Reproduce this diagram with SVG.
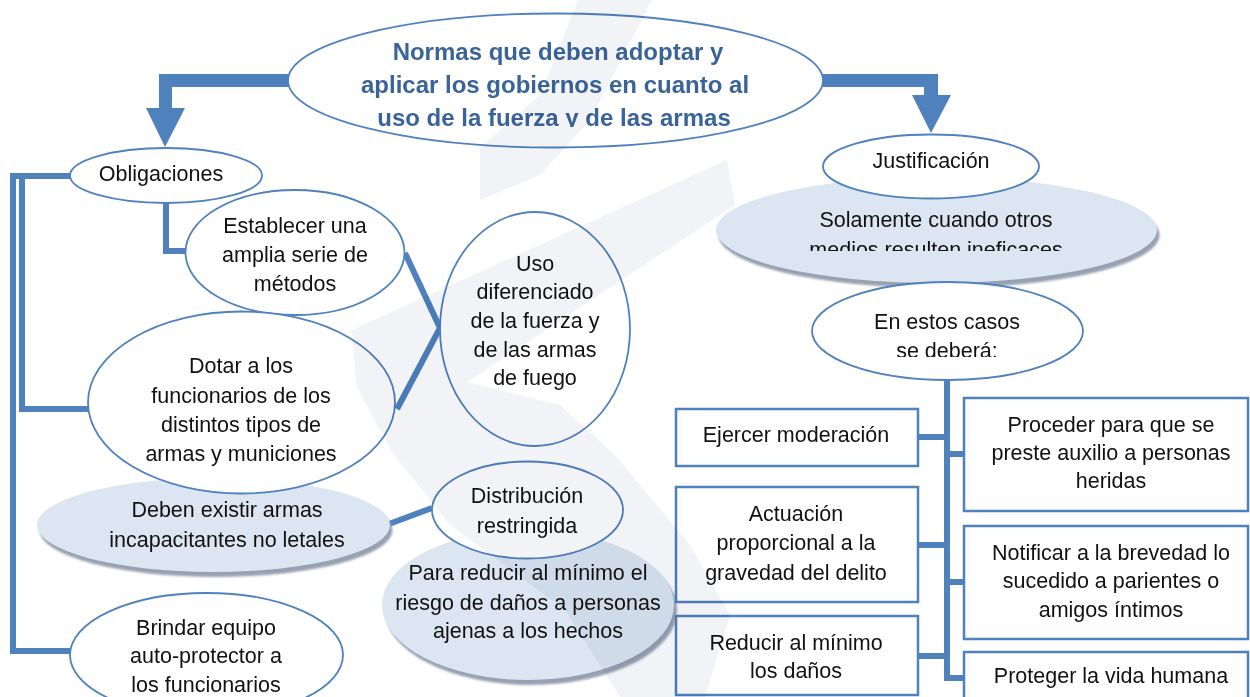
<svg xmlns="http://www.w3.org/2000/svg" width="1250" height="697" viewBox="0 0 1250 697">
<style>
.n{fill:#fff;stroke:#4f81bd;stroke-width:1.8}
.b{fill:#fff;stroke:#4f81bd;stroke-width:2.5}
.s{fill:#dce6f2}
.sh{fill:#97a1b1;filter:url(#blur)}
.t{font-family:"Liberation Sans",Arial,sans-serif;font-size:21.5px;fill:#111;text-anchor:middle}
.tt{font-family:"Liberation Sans",Arial,sans-serif;font-size:24px;font-weight:bold;fill:#3a6499;text-anchor:middle}
.c{fill:none;stroke:#4f81bd;stroke-width:6}
.a{fill:#4f81bd}
.wm{fill:#f1f3f6;mix-blend-mode:multiply}
</style>
<defs>
<filter id="blur" x="-10%" y="-10%" width="120%" height="130%"><feGaussianBlur stdDeviation="1.2"/></filter>
<clipPath id="clipTitle"><rect x="280" y="0" width="560" height="127"/></clipPath>
<clipPath id="clipSol"><rect x="700" y="150" width="470" height="101"/></clipPath>
<clipPath id="clipEn"><rect x="800" y="280" width="300" height="77"/></clipPath>
</defs>
<rect width="1250" height="697" fill="#fff"/>

<g id="connectors">
<polygon class="a" points="288,74 159,74 159,108 146,108 165,147 185,108 172,108 172,87 288,87"/>
<polygon class="a" points="823,74 938,74 938,95 951,95 931,133 912,95 924,95 924,87 823,87"/>
<path class="c" d="M70,176 H13 V651 H70"/>
<path class="c" d="M22,179 V409 H88"/>
<path class="c" d="M166,203 V251 H187"/>
<path class="c" d="M405,253 L440,328 L397,409" stroke-width="5.5"/>
<path class="c" d="M389,524 L432,508"/>
<path class="c" d="M947,380 V678 H964"/>
<path class="c" d="M918,437 H947 M947,454 H964 M918,545 H947 M947,582 H964 M918,656 H947"/>
</g>

<g id="title">
<ellipse class="n" cx="555.5" cy="80.5" rx="267.5" ry="67"/>
<g clip-path="url(#clipTitle)">
<text class="tt" x="558" y="60">Normas que deben adoptar y</text>
<text class="tt" x="555" y="93">aplicar los gobiernos en cuanto al</text>
<text class="tt" x="554" y="126">uso de la fuerza y de las armas</text>
</g>
</g>

<g id="obligaciones">
<ellipse class="n" cx="166" cy="175.5" rx="96" ry="27.5"/>
<text class="t" x="161" y="181">Obligaciones</text>
</g>

<g id="establecer">
<ellipse class="n" cx="295" cy="252.5" rx="109.5" ry="62.5"/>
<text class="t" x="295" y="233">Establecer una</text>
<text class="t" x="295" y="262">amplia serie de</text>
<text class="t" x="295" y="291">métodos</text>
</g>

<g id="uso">
<ellipse class="n" cx="535" cy="329" rx="95" ry="117"/>
<text class="t" x="535" y="271">Uso</text>
<text class="t" x="535" y="299">diferenciado</text>
<text class="t" x="535" y="328">de la fuerza y</text>
<text class="t" x="535" y="357">de las armas</text>
<text class="t" x="535" y="385">de fuego</text>
</g>

<g id="deben">
<ellipse class="sh" cx="216" cy="530" rx="176.5" ry="47"/>
<ellipse class="s" cx="213.5" cy="525" rx="176.5" ry="47"/>
<text class="t" x="227" y="517">Deben existir armas</text>
<text class="t" x="227" y="547">incapacitantes no letales</text>
</g>

<g id="dotar">
<ellipse class="n" cx="241.5" cy="402.5" rx="153.5" ry="91"/>
<text class="t" x="241" y="373">Dotar a los</text>
<text class="t" x="241" y="403">funcionarios de los</text>
<text class="t" x="241" y="432">distintos tipos de</text>
<text class="t" x="241" y="461">armas y municiones</text>
</g>

<g id="para-reducir">
<ellipse class="sh" cx="531" cy="610" rx="146" ry="75"/>
<ellipse class="s" cx="528" cy="605" rx="146" ry="75"/>
<text class="t" x="528" y="580">Para reducir al mínimo el</text>
<text class="t" x="528" y="610">riesgo de daños a personas</text>
<text class="t" x="528" y="638">ajenas a los hechos</text>
</g>

<g id="distribucion">
<ellipse class="n" cx="527.5" cy="510" rx="95.5" ry="48.5"/>
<text class="t" x="527" y="503">Distribución</text>
<text class="t" x="527" y="533">restringida</text>
</g>

<g id="brindar">
<ellipse class="n" cx="206.5" cy="655" rx="136.5" ry="62"/>
<text class="t" x="206" y="635">Brindar equipo</text>
<text class="t" x="206" y="663">auto-protector a</text>
<text class="t" x="206" y="692">los funcionarios</text>
</g>

<g id="solamente">
<ellipse class="sh" cx="939" cy="235" rx="220.5" ry="53"/>
<ellipse class="s" cx="936.5" cy="230" rx="220.5" ry="53"/>
<g clip-path="url(#clipSol)">
<text class="t" x="936" y="227">Solamente cuando otros</text>
<text class="t" x="936" y="257">medios resulten ineficaces</text>
</g>
</g>

<g id="justificacion">
<ellipse class="n" cx="931" cy="166.5" rx="108" ry="32"/>
<text class="t" x="931" y="168">Justificación</text>
</g>

<g id="en-estos-casos">
<ellipse class="n" cx="947.5" cy="331" rx="135.5" ry="49"/>
<g clip-path="url(#clipEn)">
<text class="t" x="947" y="329">En estos casos</text>
<text class="t" x="947" y="358">se deberá:</text>
</g>
</g>

<g id="ejercer">
<rect class="b" x="676" y="409" width="242" height="57"/>
<text class="t" x="796" y="442">Ejercer moderación</text>
</g>
<g id="actuacion">
<rect class="b" x="676" y="487" width="242" height="115"/>
<text class="t" x="796" y="521">Actuación</text>
<text class="t" x="796" y="550">proporcional a la</text>
<text class="t" x="796" y="580">gravedad del delito</text>
</g>
<g id="reducir">
<rect class="b" x="676" y="616" width="242" height="79"/>
<text class="t" x="796" y="650">Reducir al mínimo</text>
<text class="t" x="796" y="678">los daños</text>
</g>
<g id="proceder">
<rect class="b" x="964" y="398" width="284" height="113"/>
<text class="t" x="1111" y="432">Proceder para que se</text>
<text class="t" x="1111" y="460">preste auxilio a personas</text>
<text class="t" x="1111" y="488">heridas</text>
</g>
<g id="notificar">
<rect class="b" x="964" y="526" width="284" height="113"/>
<text class="t" x="1111" y="560">Notificar a la brevedad lo</text>
<text class="t" x="1111" y="588">sucedido a parientes o</text>
<text class="t" x="1111" y="617">amigos íntimos</text>
</g>
<g id="proteger">
<rect class="b" x="964" y="652" width="284" height="70"/>
<text class="t" x="1111" y="683">Proteger la vida humana</text>
</g>

<g id="watermark">
<polygon class="wm" points="578,0 652,0 622,58 590,120 540,175 480,200 480,148 540,95"/>
<polygon class="wm" points="352,330 727,160 735,205 467,382 560,405 615,455 690,545 730,615 705,697 620,697 565,610 450,525 392,452 356,385"/>
</g>
</svg>
